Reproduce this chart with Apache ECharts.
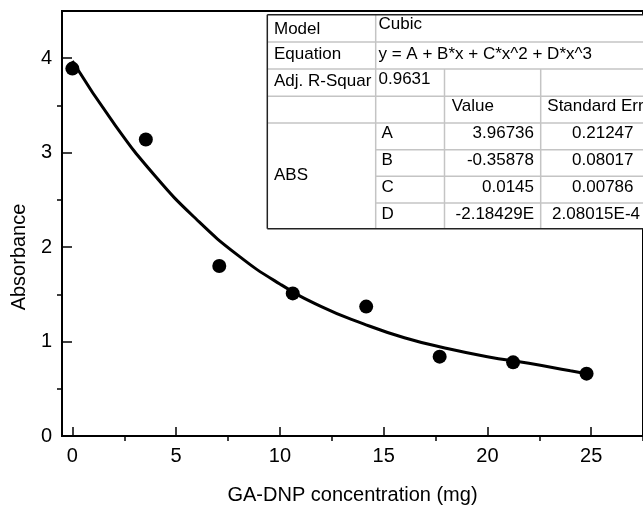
<!DOCTYPE html>
<html><head><meta charset="utf-8">
<script src="https://cdn.jsdelivr.net/npm/echarts@6/dist/echarts.min.js"></script>
<style>html,body{margin:0;padding:0;background:#fff}#c{width:643px;height:510px}</style>
</head><body><div id="c"></div>
<script>
// ---- data ----
const concentration = [0, 3.54, 7.08, 10.62, 14.16, 17.7, 21.24, 24.78];
const absorbance    = [3.89, 3.14, 1.80, 1.51, 1.37, 0.84, 0.78, 0.66];
const fitX = [0, 2, 4, 6, 8, 10, 12, 14, 16, 18, 20, 22, 24, 24.78];
const fitY = [3.97, 3.31, 2.75, 2.29, 1.91, 1.61, 1.37, 1.19, 1.04, 0.93, 0.84, 0.77, 0.69, 0.66];
const xTicks = [0, 5, 10, 15, 20, 25];
const xMinorTicks = [2.5, 7.5, 12.5, 17.5, 22.5, 27.5];
const yTicks = [0, 1, 2, 3, 4];
const yMinorTicks = [0.5, 1.5, 2.5, 3.5];
const xTitle = 'GA-DNP concentration (mg)';
const yTitle = 'Absorbance';
// fit report table
const tableLabels = ['Model', 'Equation', 'Adj. R-Squar'];
const tableModel = 'Cubic';
const tableEquation = 'y = A + B*x + C*x^2 + D*x^3';
const tableAdjR2 = '0.9631';
const tableHeader = ['Value', 'Standard Error'];
const tableGroup = 'ABS';
const paramNames = ['A', 'B', 'C', 'D'];
const paramValues = ['3.96736', '-0.35878', '0.0145', '-2.18429E'];
const paramErrors = ['0.21247', '0.08017', '0.00786', '2.08015E-4'];

// ---- layout ----
const FONT = 'Liberation Sans, Arial, sans-serif';
const colX = [267.3, 375.7, 444.5, 540.7, 700];
const rowY = [14.7, 42, 69, 96.3, 123, 149.7, 176.3, 203, 228.7];
const gray = '#c4c4c4', dark = '#222';

const els = [];
els.push({type:'rect', shape:{x:colX[0], y:rowY[0], width:colX[4]-colX[0], height:rowY[8]-rowY[0]}, style:{fill:'#fff'}, z:10});
function hline(y, x1, x2, c, w){ els.push({type:'line', shape:{x1:x1, y1:y, x2:x2, y2:y}, style:{stroke:c, lineWidth:w}, z:11}); }
function vline(x, y1, y2, c, w){ els.push({type:'line', shape:{x1:x, y1:y1, x2:x, y2:y2}, style:{stroke:c, lineWidth:w}, z:11}); }
for (let r = 1; r <= 4; r++) hline(rowY[r], colX[0], colX[4], gray, 1.5);
for (let r = 5; r <= 7; r++) hline(rowY[r], colX[1], colX[4], gray, 1.5);
vline(colX[1], rowY[0], rowY[8], gray, 1.5);
vline(colX[2], rowY[2], rowY[8], gray, 1.5);
vline(colX[3], rowY[2], rowY[8], gray, 1.5);
hline(rowY[0], colX[0], colX[4], dark, 1.5);
hline(rowY[8], colX[0], colX[4], dark, 1.5);
vline(colX[0], rowY[0], rowY[8], dark, 1.5);

function txt(s, x, y, align){
  els.push({type:'text', z:12, style:{text:s, x:x, y:y, font:'17px ' + FONT, fill:'#000',
    align:align||'left', textAlign:align||'left', verticalAlign:'middle', textVerticalAlign:'middle'}});
}
txt(tableLabels[0], 274, 29);
txt(tableLabels[1], 274, 54.5);
txt(tableLabels[2], 274, 81);
txt(tableModel, 378.5, 24.5);
txt(tableEquation, 378.5, 54.5);
txt(tableAdjR2, 378.5, 79.5);
txt(tableHeader[0], 451.7, 106);
txt(tableHeader[1], 547.3, 106);
txt(tableGroup, 274, 175.3);
const paramRowY = [133, 160, 187.5, 214];
const errRight = [633.5, 633.5, 633.5, 640];
for (let i = 0; i < paramNames.length; i++) {
  txt(paramNames[i], 381.5, paramRowY[i]);
  txt(paramValues[i], 534, paramRowY[i], 'right');
  txt(paramErrors[i], errRight[i], paramRowY[i], 'right');
}
els.push({type:'text', z:5, rotation:Math.PI/2, x:19, y:257,
  style:{text:yTitle, x:0, y:0, font:'20px ' + FONT, fill:'#000', align:'center', textAlign:'center', verticalAlign:'middle', textVerticalAlign:'middle'}});

const chart = echarts.init(document.getElementById('c'), null, {renderer:'canvas'});
const axisText = {color:'#000', fontSize:20, fontFamily:FONT};
chart.setOption({
  animation:false,
  backgroundColor:'#fff',
  grid:{left:62, top:11, width:589.7, height:430.7, show:true, borderColor:'#000', borderWidth:2, backgroundColor:'transparent'},
  xAxis:[
    {type:'value', min:-0.5, max:27.5, position:'bottom',
     axisLine:{onZero:false, lineStyle:{color:'#000', width:2}},
     axisTick:{inside:true, length:9, customValues:xTicks, lineStyle:{color:'#000', width:1.5}},
     axisLabel:Object.assign({margin:10, customValues:xTicks}, axisText),
     splitLine:{show:false},
     name:xTitle, nameLocation:'middle', nameGap:49,
     nameTextStyle:{color:'#000', fontSize:20, fontFamily:FONT}},
    {type:'value', min:-0.5, max:27.5, position:'bottom',
     axisLine:{show:false, onZero:false},
     axisTick:{inside:false, length:5, customValues:xMinorTicks, lineStyle:{color:'#000', width:1.5}},
     axisLabel:{show:false}, splitLine:{show:false}}
  ],
  yAxis:[
    {type:'value', min:0, max:4.5, position:'left',
     axisLine:{show:true, onZero:false, lineStyle:{color:'#000', width:2}},
     axisTick:{show:true, inside:true, length:10, customValues:yTicks, lineStyle:{color:'#000', width:1.5}},
     axisLabel:Object.assign({margin:10, customValues:yTicks}, axisText),
     splitLine:{show:false}},
    {type:'value', min:0, max:4.5, position:'left',
     axisLine:{show:false, onZero:false},
     axisTick:{show:true, inside:false, length:5, customValues:yMinorTicks, lineStyle:{color:'#000', width:1.5}},
     axisLabel:{show:false}, splitLine:{show:false}}
  ],
  series:[
    {type:'line', xAxisIndex:0, yAxisIndex:0, data:fitX.map((x,i)=>[x, fitY[i]]),
     smooth:true, showSymbol:false, symbol:'none', lineStyle:{color:'#000', width:3}, z:3},
    {type:'scatter', xAxisIndex:0, yAxisIndex:0, data:concentration.map((x,i)=>[x, absorbance[i]]),
     symbol:'circle', symbolSize:14, itemStyle:{color:'#000', opacity:1}, z:4}
  ],
  graphic:{elements:els}
});
</script></body></html>
